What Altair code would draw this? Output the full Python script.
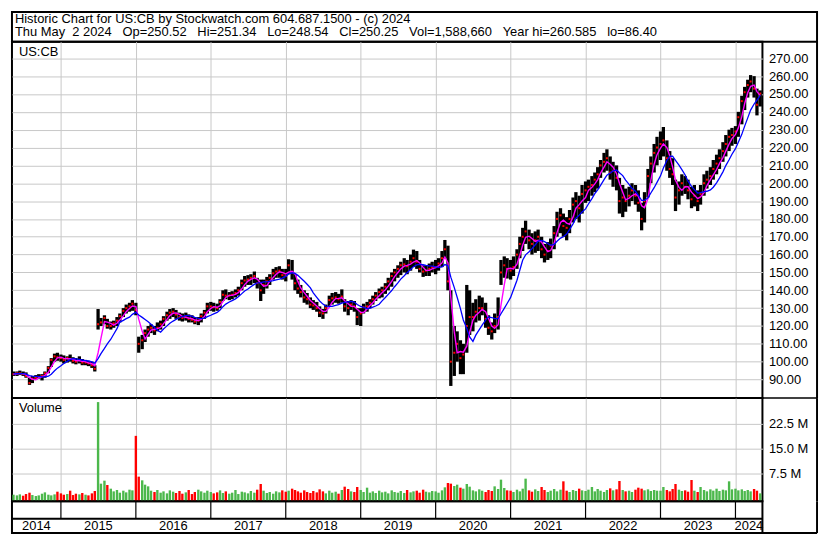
import altair as alt
import pandas as pd

FONT = "Liberation Sans"
GRID = "#c8c8c8"
GREEN = "#4cb84c"
RED = "#ff0000"

# ---------------- data (semi-monthly readings from the chart) ----------------
dates = pd.date_range("2014-05-15", "2024-05-01", freq="SMS")

lo_2014 = [92, 92, 92.5, 92, 91, 87, 88, 90, 90.5, 89.5, 91, 93.5, 97, 100, 100.5]
hi_2014 = [94.5, 94.5, 95, 94.5, 94, 91, 92, 92.5, 93, 93, 94.5, 97.5, 102, 104.5, 105]
cl_2014 = [93, 93.5, 93.5, 93, 92, 88, 90.5, 91, 91.5, 92, 93.5, 96.5, 101, 103, 102.5]
vo_2014 = [1.2, 1.0, 1.3, 0.9, 1.4, 1.8, 1.1, 0.8, 1.0, 1.5, 1.9, 1.2, 1.0, 1.3, 2.1]

lo_2015 = [100, 99, 99.5, 100, 99, 98.5, 99, 98, 98, 97.5, 96.5, 94.5, 118, 120, 121, 118.5, 118, 119, 120, 122, 125, 127, 128, 128.5]
hi_2015 = [104, 103.5, 103, 104, 102.5, 102, 103, 101.5, 101, 100.5, 100, 98, 129.5, 124.5, 126, 124, 122.5, 123, 125, 127, 130, 132, 133, 134.5]
cl_2015 = [102, 101, 102, 101.5, 100.5, 100, 101, 99.5, 99.5, 99, 98, 96, 121, 122, 124.5, 120, 120, 121.5, 123, 125.5, 128.5, 130, 131, 132.5]
vo_2015 = [1.6, 1.2, 1.4, 2.4, 1.1, 1.5, 1.3, 1.7, 1.2, 1.0, 1.6, 2.3, 28.9, 4.5, 5.4, 4.1, 3.0, 2.2, 2.6, 1.8, 2.4, 1.9, 2.7, 2.5]

lo_2016 = [126, 105, 107, 111, 114, 116, 115, 117, 118, 120, 123, 124, 125, 124, 123, 122.5, 123, 122, 122, 121, 120.5, 122, 124, 127]
hi_2016 = [133, 114, 115, 118, 120, 121, 120, 122, 123, 125.5, 128, 129.5, 130, 129, 127.5, 127, 127.5, 126.5, 126, 125, 125, 127, 129, 133]
cl_2016 = [129, 110, 112, 116, 118, 119, 117.5, 119, 121, 124, 126, 127.5, 128, 126.5, 125, 124.5, 125, 124, 123.5, 122.5, 123, 125.5, 127.5, 131]
vo_2016 = [18.8, 6.6, 5.5, 4.2, 3.7, 2.4, 2.0, 2.6, 1.8, 2.2, 1.6, 2.5, 2.1, 1.7, 2.3, 1.5, 1.9, 2.6, 1.4, 2.0, 2.7, 2.2, 1.8, 2.4]

lo_2017 = [128.5, 128, 128.5, 130, 134, 135, 134.5, 135, 136, 137, 140, 142, 143, 143, 144, 141, 134, 138, 141, 143, 146, 147, 147, 146]
hi_2017 = [133.5, 133, 132.5, 135, 140, 140.5, 139, 139.5, 140.5, 142, 146, 148, 148.5, 149, 150.5, 147, 146, 146, 147.5, 149, 152, 153, 153.5, 152]
cl_2017 = [131, 130.5, 130, 133.5, 137.5, 137, 137, 137.5, 138.5, 140, 144, 145.5, 146, 147, 148, 144, 140, 143, 145, 147, 149.5, 150.5, 151, 148.5]
vo_2017 = [2.0, 1.6, 1.9, 2.5, 1.7, 2.2, 1.5, 1.8, 2.6, 1.4, 2.1, 1.9, 1.6, 2.3, 1.8, 2.7, 4.4, 2.4, 1.7, 2.0, 1.5, 2.2, 1.9, 2.5]

lo_2018 = [145, 149, 146, 140, 138, 136, 133, 132, 130, 129, 128, 125, 124, 127, 131, 132, 133, 132.5, 133, 128, 126, 129, 128, 120.5]
hi_2018 = [152, 157.4, 157, 149, 146, 143, 140, 138.5, 136, 134.5, 133.5, 131, 129.5, 132, 137, 138.5, 139, 138, 140.5, 135, 134, 134.5, 134, 130]
cl_2018 = [148, 154, 150, 144, 141, 139, 136, 135, 132, 131.5, 130, 127.5, 127, 130, 134.5, 135.5, 136, 135, 136.5, 131, 130, 132, 131, 125]
vo_2018 = [2.1, 2.4, 3.0, 2.6, 2.2, 1.8, 2.5, 2.0, 1.7, 2.3, 1.9, 2.8, 2.2, 1.6, 2.4, 1.8, 2.1, 1.5, 2.6, 3.6, 2.9, 2.2, 2.0, 3.5]

lo_2019 = [120, 127, 128, 130, 132, 134, 135.5, 136, 138, 140, 142, 145, 147, 148.5, 150, 149, 151, 153, 152, 150, 147.5, 148, 148, 150]
hi_2019 = [130, 132.5, 133.5, 135, 137, 139, 141, 142, 144, 147, 150, 152, 154, 156, 158, 157, 160, 162.8, 162, 157, 154, 154, 155, 156]
cl_2019 = [127, 130.5, 131, 133, 135, 137, 139, 140, 142, 145, 148, 150, 152, 154, 154.5, 153.5, 156, 158, 156, 152, 150.5, 151, 152, 153]
vo_2019 = [2.6, 2.0, 3.3, 1.8, 2.2, 1.7, 2.4, 1.9, 2.1, 1.6, 2.5, 2.0, 1.8, 2.3, 1.7, 2.6, 1.9, 2.2, 2.4, 1.8, 2.7, 2.1, 1.9, 2.3]

lo_2020 = [149, 151, 153, 158, 140, 86.4, 92, 100, 93, 93, 105, 115, 117, 122, 123, 126, 119, 115, 112.4, 116, 118, 143, 147, 146.6]
hi_2020 = [157, 158, 162, 168.2, 165, 140, 120, 117, 112, 110, 143, 140, 133, 135, 137, 136, 133, 126, 122, 127, 136, 157, 159, 158]
cl_2020 = [153, 155, 158, 163, 145, 100, 105, 110, 102, 104, 120, 125, 125, 128, 130, 130, 124, 119, 117, 120, 125, 150, 154, 152]
vo_2020 = [2.2, 1.8, 2.5, 3.4, 4.7, 4.5, 3.8, 4.2, 3.3, 3.0, 4.4, 3.6, 2.5, 2.2, 2.8, 2.4, 2.0, 2.6, 2.3, 3.7, 2.9, 5.7, 3.2, 2.5]

lo_2021 = [146, 148, 152, 158, 162, 166, 163, 160, 161, 162, 158, 155.6, 157, 158, 163, 170, 172, 170, 168, 172, 178, 180, 178, 183]
hi_2021 = [157, 159, 163, 170, 175, 179, 174, 172, 173, 174, 170, 166, 167, 169, 176, 184, 186, 183, 181, 185, 192, 195, 193, 199]
cl_2021 = [151, 153, 160, 166, 170, 173, 168, 166, 168, 170, 163, 160, 162, 165, 172, 180, 182, 176, 175, 180, 188, 190, 186, 194]
vo_2021 = [2.4, 2.0, 2.7, 2.2, 3.0, 6.0, 2.5, 2.1, 2.8, 2.3, 3.5, 2.6, 2.0, 2.4, 2.9, 2.2, 2.7, 5.2, 2.4, 2.0, 2.6, 2.3, 3.0, 2.5]

lo_2022 = [189, 190, 193, 195, 197, 203, 206, 207, 202, 198, 196, 183, 181, 184, 187, 190, 188, 184, 173.6, 178, 192, 200, 206, 210]
hi_2022 = [201, 202, 204, 206, 209, 213, 217, 219, 215, 212, 210, 203, 199, 197, 198, 200, 199, 196, 189, 195, 208, 215, 222, 226]
cl_2022 = [196, 198, 199, 202, 205, 210, 212, 214, 206, 207, 203, 190, 192, 190, 193, 196, 193, 189, 180, 190, 204, 211, 217, 220]
vo_2022 = [2.3, 2.7, 3.5, 2.2, 2.9, 2.4, 2.0, 2.6, 3.1, 2.5, 2.8, 5.3, 2.6, 2.2, 2.4, 2.0, 2.7, 3.3, 3.0, 2.5, 2.8, 2.3, 2.6, 2.4]

lo_2023 = [213, 215, 207, 203, 199, 184.4, 188, 193, 194, 191, 186, 187, 184.4, 188, 193, 197, 199, 202, 205, 208, 212, 215, 218, 221]
hi_2023 = [229, 231.5, 224, 218, 214, 202, 201, 205, 204, 202, 198, 199, 196, 199, 205, 207, 209, 213, 216, 219, 223, 227, 230, 231]
cl_2023 = [222, 224, 214, 208, 205, 192, 196, 200, 198, 196, 191, 193, 190, 194, 200, 202, 204, 208, 211, 214, 218, 222, 226, 227]
vo_2023 = [2.4, 3.5, 2.6, 2.2, 2.9, 4.4, 2.7, 2.3, 2.5, 2.1, 5.6, 2.4, 2.0, 3.5, 2.6, 2.2, 2.8, 2.4, 3.0, 2.3, 2.7, 2.5, 5.2, 2.8]

lo_2024 = [222, 226, 233, 241, 248, 251, 248, 238, 243]
hi_2024 = [232, 240, 249, 254, 258, 260.6, 260, 253, 252]
cl_2024 = [229, 237, 246, 251, 255, 257, 253, 244, 250.25]
vo_2024 = [3.0, 2.5, 2.8, 2.3, 2.6, 2.2, 2.9, 2.4, 1.6]

yrs = range(2014, 2025)
lo = sum([globals()[f"lo_{y}"] for y in yrs], [])
hi = sum([globals()[f"hi_{y}"] for y in yrs], [])
cl = sum([globals()[f"cl_{y}"] for y in yrs], [])
vo = sum([globals()[f"vo_{y}"] for y in yrs], [])
assert len(lo) == len(hi) == len(cl) == len(vo) == len(dates)

years = list(range(2014, 2025))
price_ticks = list(range(90, 271, 10))
vol_ticks = [7.5, 15.0, 22.5]

NB = "\u00a0"
header_line1 = "Historic Chart for US:CB by Stockwatch.com 604.687.1500 - (c) 2024"
header_parts2 = ["Thu May" + NB * 2 + "2 2024", "Op=250.52", "Hi=251.34", "Lo=248.54",
                 "Cl=250.25", "Vol=1,588,660", "Year hi=260.585", "lo=86.40"]
header_line2 = (NB * 3).join(header_parts2)

# ---------------- frame ----------------
W, RP = 756, 55
HH, HP, HV, HB = 30, 359, 104, 32
T0, T1 = 2014.347, 2024.36
VOL_MIN = -0.78

def dec_year(d):
    n = 366 if d.is_leap_year else 365
    return d.year + (d.dayofyear - 1) / n

df = pd.DataFrame({
    "t": [dec_year(d) for d in dates],
    "lo": lo, "hi": hi, "cl": cl, "vol": vo,
})
df["dir"] = ["up" if i == 0 or df.cl[i] >= df.cl[i - 1] else "down" for i in range(len(df))]
df["vbase"] = VOL_MIN

one = pd.DataFrame({"k": [0]})
xs = alt.Scale(domain=[T0, T1], nice=False, zero=False)
grid_x = alt.Axis(values=years[1:], grid=True, gridColor=GRID, labels=False, ticks=False,
                  domain=False, title=None)
X = alt.X("t:Q", scale=xs, axis=grid_x)

def txt(s, x, y, size=13, align="left"):
    return alt.Chart(one).mark_text(text=s, align=align, baseline="alphabetic", font=FONT,
                                    fontSize=size, color="black").encode(x=alt.value(x), y=alt.value(y))

def hrule(x0, x1, y, w=1.5):
    return alt.Chart(one).mark_rule(color="black", strokeWidth=w).encode(
        x=alt.value(x0), x2=alt.value(x1), y=alt.value(y))

def vrule(x, y0, y1, w=2):
    return alt.Chart(one).mark_rule(color="black", strokeWidth=w).encode(
        x=alt.value(x), y=alt.value(y0), y2=alt.value(y1))

# header
header = alt.layer(
    txt(header_line1, 3, 11),
    txt(header_line2, 3, 24.5),
).properties(width=W + RP, height=HH)

# price panel
ys = alt.Scale(domain=[79.6, 279.3], nice=False, zero=False)
yaxis_p = alt.Axis(orient="right", values=price_ticks, format=".2f", grid=True, gridColor=GRID,
                   ticks=False, domain=False, title=None, labelFont=FONT, labelFontSize=13,
                   labelColor="black", labelPadding=6, labelOverlap=False, labelFlush=False)
def YP(f):
    return alt.Y(f, scale=ys, axis=yaxis_p)

base = alt.Chart(df)
bars = base.mark_rule(color="black", strokeWidth=3.3).encode(x=X, y=YP("lo:Q"), y2="hi:Q")
closes = base.mark_square(color=RED, size=4, opacity=1).encode(x=X, y=YP("cl:Q"))
ma_fast = base.transform_window(maf="mean(cl)", frame=[-2, 0], sort=[alt.SortField("t")]).mark_line(
    color="#ff00ff", strokeWidth=1.4).encode(x=X, y=YP("maf:Q"))
ma_slow = base.transform_window(mas="mean(cl)", frame=[-7, 0], sort=[alt.SortField("t")]).mark_line(
    color="#0000ff", strokeWidth=1.3).encode(x=X, y=YP("mas:Q"))
price = alt.layer(
    bars, closes, ma_fast, ma_slow, txt("US:CB", 7, 14.5),
    vrule(W + RP, 0, HP), hrule(W, W + RP, HP),
).properties(width=W, height=HP)

# volume panel
yv = alt.Scale(domain=[VOL_MIN, 30.1], nice=False, zero=False)
yaxis_v = alt.Axis(orient="right", values=vol_ticks, labelExpr="format(datum.value, '.1f') + ' M'",
                   grid=True, gridColor=GRID, ticks=False, domain=False, title=None, labelFont=FONT,
                   labelFontSize=13, labelColor="black", labelPadding=6, labelOverlap=False)
vbars = base.mark_rule(strokeWidth=2.4).encode(
    x=X,
    y=alt.Y("vol:Q", scale=yv, axis=yaxis_v),
    y2="vbase:Q",
    color=alt.Color("dir:N", scale=alt.Scale(domain=["up", "down"], range=[GREEN, RED]), legend=None))
volume = alt.layer(vbars, txt("Volume", 7, 14), vrule(W + RP, 0, HV)).properties(width=W, height=HV)

# year band
ydf = pd.DataFrame({"year": years})
ydf["start"] = ydf.year.clip(lower=T0)
ydf["end"] = (ydf.year + 1).clip(upper=T1)
ydf["mid"] = (ydf.start + ydf.end) / 2
ydf["label"] = ydf.year.astype(str)
sdf = pd.DataFrame({"t": years[1:]})
labels = alt.Chart(ydf).mark_text(font=FONT, fontSize=13, color="black", baseline="alphabetic",
                                  align="center").encode(
    x=alt.X("mid:Q", scale=xs, axis=None), y=alt.value(29), text="label:N")
seps = alt.Chart(sdf).mark_rule(color="black", strokeWidth=1.2).encode(
    x=alt.X("t:Q", scale=xs, axis=None), y=alt.value(0), y2=alt.value(17.5))
band = alt.layer(
    seps, labels, hrule(0, W, 17.5, 2), vrule(W + RP, 0, HB), hrule(W, W + RP, HB, 2),
).properties(width=W, height=HB)

chart = alt.vconcat(header, price, volume, band, spacing=0, bounds="flush").configure_view(
    stroke="black", strokeWidth=2).properties(
    padding={"left": 1, "top": 1, "right": 3, "bottom": 1})

chart.save("out.html", embed_options={"renderer": "svg", "actions": False})
